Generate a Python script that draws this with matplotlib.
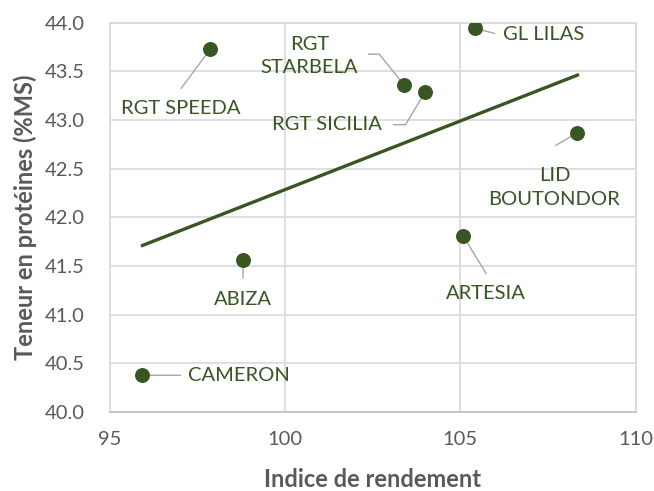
import numpy as np
import matplotlib
matplotlib.use('Agg')
import matplotlib.pyplot as plt

plt.rcParams['font.family'] = ['Lato', 'DejaVu Sans']

# données
varietes = ['RGT SPEEDA', 'GL LILAS', 'RGT\nSTARBELA', 'RGT SICILIA',
            'LID\nBOUTONDOR', 'ARTESIA', 'ABIZA', 'CAMERON']
rendement = [97.86, 105.41, 103.40, 104.00, 108.34, 105.08, 98.80, 95.93]
proteines = [43.725, 43.94, 43.357, 43.29, 42.87, 41.81, 41.56, 40.377]

# position des étiquettes (pixels, par rapport au point)
txt_off = [(-29, -59), (28, -6), (-95, 29), (-98, -33),
           (-23, -55), (23, -58), (0, -39), (46, 0)]
txt_ha = ['center', 'left', 'center', 'center',
          'center', 'center', 'center', 'left']
lead_off = [(-29, -39), (20, -5), (-36, 31), (-32, -33),
            (-22, -13), (23, -38), (0, -18), (38, 0)]
lead_conn = [None, None, 'angle,angleA=0,angleB=129,rad=0',
             'angle,angleA=0,angleB=239,rad=0', None, None, None, None]

vert = '#375623'
gris = '#595959'

fig = plt.figure(figsize=(6.54, 4.91), dpi=100)
ax = fig.add_axes([0.168, 0.161, 0.804, 0.793])

ax.set_xlim(95, 110)
ax.set_ylim(40, 44)
ax.set_xticks([95, 100, 105, 110])
ax.set_yticks(np.arange(40, 44.01, 0.5))
ax.set_yticklabels(['%.1f' % v for v in np.arange(40, 44.01, 0.5)])
ax.grid(True, color='#D9D9D9', linewidth=1.2)
ax.set_axisbelow(True)
for s in ax.spines.values():
    s.set_color('#D9D9D9')
    s.set_linewidth(1.2)
ax.spines['bottom'].set_color('#BFBFBF')
ax.tick_params(length=0, labelsize=14.5, labelcolor=gris)
ax.tick_params(axis='x', pad=14)
ax.tick_params(axis='y', pad=18)

# courbe de tendance linéaire
a, b = np.polyfit(rendement, proteines, 1)
xs = np.array([min(rendement), max(rendement)])
ax.plot(xs, a * xs + b, color=vert, linewidth=2.4, zorder=2)

ax.scatter(rendement, proteines, s=95, color=vert, zorder=3)

for i, nom in enumerate(varietes):
    p = (rendement[i], proteines[i])
    ap = dict(arrowstyle='-', color='#A6A6A6', lw=1, shrinkA=0, shrinkB=3)
    if lead_conn[i]:
        ap['connectionstyle'] = lead_conn[i]
    ax.annotate('', xy=p, xytext=lead_off[i], textcoords='offset pixels',
                arrowprops=ap, zorder=2.5)
    ax.annotate(nom, xy=p, xytext=txt_off[i], textcoords='offset pixels',
                ha=txt_ha[i], va='center', color=vert, fontsize=14.5,
                linespacing=1.45)

ax.set_xlabel('Indice de rendement', fontsize=17, fontweight='bold',
              color=gris, labelpad=14)
ax.set_ylabel('Teneur en protéines (%MS)', fontsize=17, fontweight='bold',
              color=gris, labelpad=6)

fig.savefig('out.png', dpi=100)
